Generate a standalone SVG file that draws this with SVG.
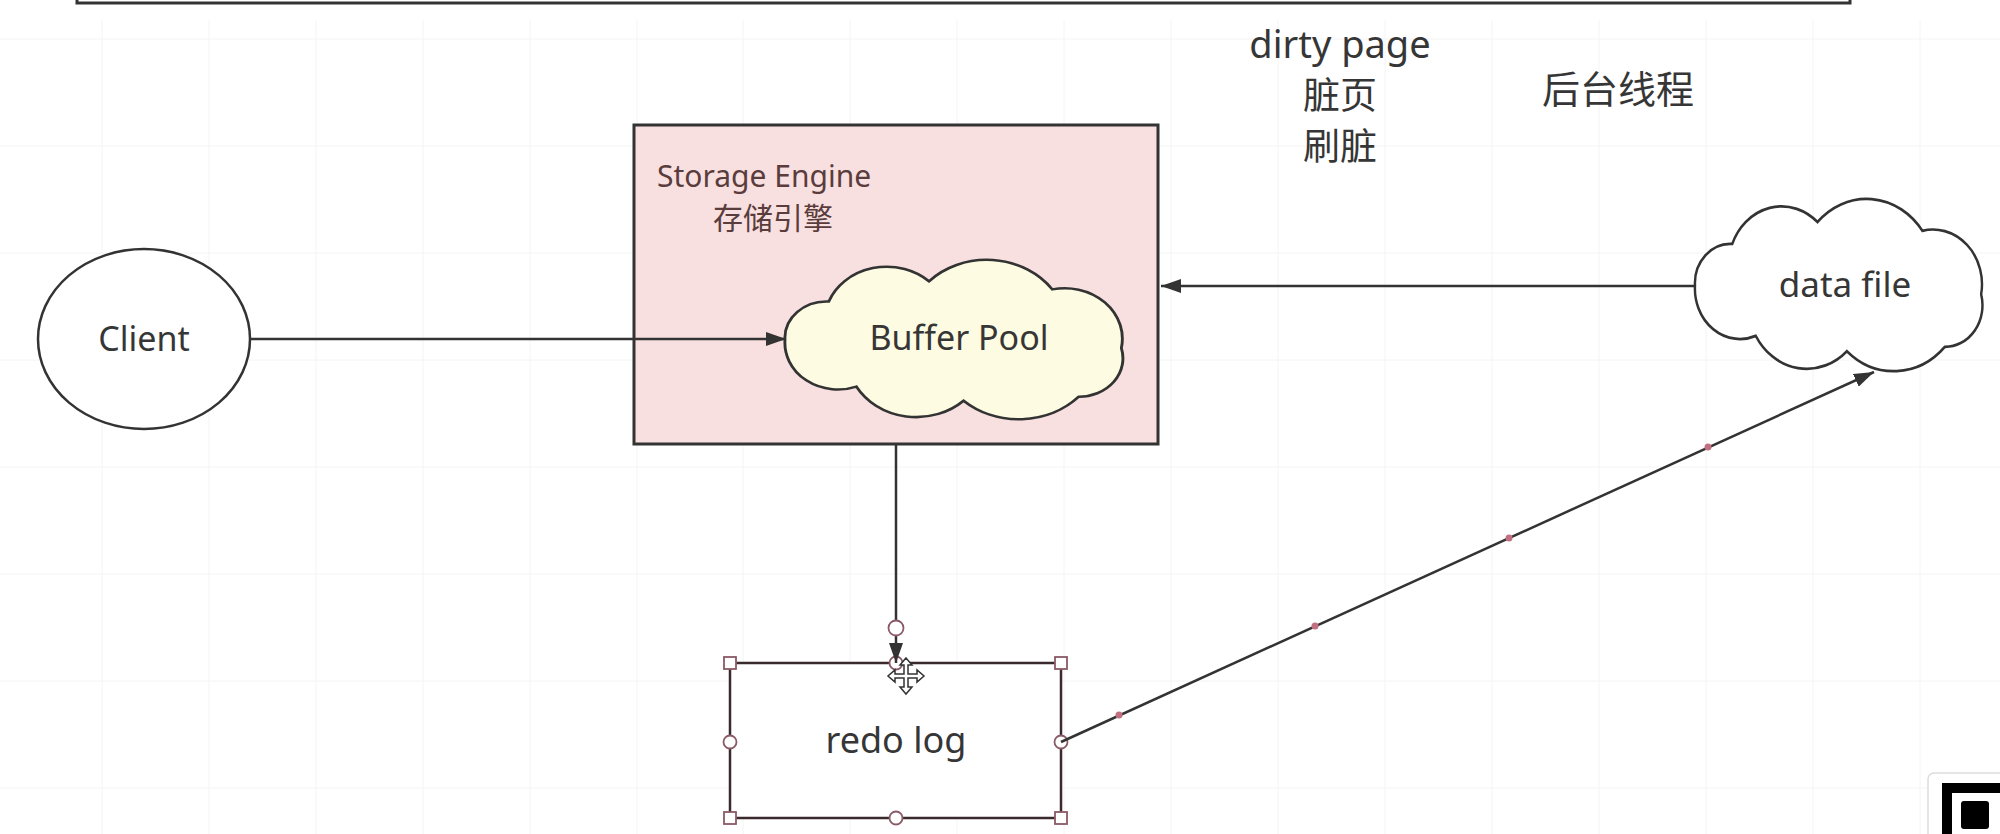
<svg xmlns="http://www.w3.org/2000/svg" width="2000" height="834" viewBox="0 0 2000 834">
<defs>
<style>
.t{font-family:"Noto Sans","Open Sans","Noto Sans CJK SC",sans-serif;fill:#363636;text-anchor:middle}
.ln{stroke:#333;stroke-width:2.5;fill:none}
.grid{stroke:#f4f4f4;stroke-width:1}
.hs{fill:#fff;stroke:#8a5a66;stroke-width:1.8}
.cl{stroke:#333;stroke-width:2.5;vector-effect:non-scaling-stroke}
</style>
<marker id="ah" viewBox="0 0 20 14" refX="20" refY="7" markerWidth="20" markerHeight="14" markerUnits="userSpaceOnUse" orient="auto">
<path d="M0,0 L20,7 L0,14 Z" fill="#333"/>
</marker>
<path id="cloud" d="M0,80 A36,36 0 0,1 38,42 A54,54 0 0,1 125,22 A70,70 0 0,1 232,30 A50,50 0 0,1 292,88 A38,38 0 0,1 255,136 A72,72 0 0,1 155,140 A60,60 0 0,1 62,126 A46,46 0 0,1 0,80 Z"/>
</defs>
<rect width="2000" height="834" fill="#fff"/>
<g id="grid">
<line class="grid" x1="102" y1="20" x2="102" y2="834"/>
<line class="grid" x1="209" y1="20" x2="209" y2="834"/>
<line class="grid" x1="316" y1="20" x2="316" y2="834"/>
<line class="grid" x1="423" y1="20" x2="423" y2="834"/>
<line class="grid" x1="530" y1="20" x2="530" y2="834"/>
<line class="grid" x1="637" y1="20" x2="637" y2="834"/>
<line class="grid" x1="743" y1="20" x2="743" y2="834"/>
<line class="grid" x1="850" y1="20" x2="850" y2="834"/>
<line class="grid" x1="957" y1="20" x2="957" y2="834"/>
<line class="grid" x1="1064" y1="20" x2="1064" y2="834"/>
<line class="grid" x1="1171" y1="20" x2="1171" y2="834"/>
<line class="grid" x1="1278" y1="20" x2="1278" y2="834"/>
<line class="grid" x1="1385" y1="20" x2="1385" y2="834"/>
<line class="grid" x1="1492" y1="20" x2="1492" y2="834"/>
<line class="grid" x1="1599" y1="20" x2="1599" y2="834"/>
<line class="grid" x1="1706" y1="20" x2="1706" y2="834"/>
<line class="grid" x1="1813" y1="20" x2="1813" y2="834"/>
<line class="grid" x1="1920" y1="20" x2="1920" y2="834"/>
<line class="grid" x1="0" y1="39" x2="2000" y2="39"/>
<line class="grid" x1="0" y1="146" x2="2000" y2="146"/>
<line class="grid" x1="0" y1="253" x2="2000" y2="253"/>
<line class="grid" x1="0" y1="360" x2="2000" y2="360"/>
<line class="grid" x1="0" y1="467" x2="2000" y2="467"/>
<line class="grid" x1="0" y1="574" x2="2000" y2="574"/>
<line class="grid" x1="0" y1="681" x2="2000" y2="681"/>
<line class="grid" x1="0" y1="788" x2="2000" y2="788"/>
</g>
<g id="topbar">
<rect x="77" y="-12" width="1773" height="15" fill="#fff" stroke="#333" stroke-width="3"/>
</g>
<g id="labels">
<text class="t" x="1340" y="58" font-size="38">dirty page</text>
<text class="t" x="1340" y="109" font-size="37">脏页</text>
<text class="t" x="1340" y="160" font-size="37">刷脏</text>
<text class="t" x="1618" y="103" font-size="38">后台线程</text>
</g>
<g id="client">
<ellipse cx="144" cy="339" rx="106" ry="90" fill="#fff" stroke="#333" stroke-width="2.5"/>
<text class="t" x="144" y="351" font-size="34">Client</text>
</g>
<g id="storage-engine">
<rect x="634" y="125" width="524" height="319" fill="#f8e0e0" stroke="#333" stroke-width="3"/>
<text class="t" x="657" y="187" font-size="30" style="text-anchor:start;fill:#5a3c3c">Storage Engine</text>
<text class="t" x="773" y="229" font-size="30" style="fill:#5a3c3c">存储引擎</text>
</g>
<g id="buffer-pool">
<use href="#cloud" class="cl" fill="#fdfbe1" transform="translate(785,259) scale(1.152,1.0125)"/>
<text class="t" x="959" y="350" font-size="34">Buffer Pool</text>
</g>
<g id="data-file">
<use href="#cloud" class="cl" fill="#fff" transform="translate(1695,198) scale(0.98,1.094)"/>
<text class="t" x="1845" y="297" font-size="35">data file</text>
</g>
<g id="redo-log">
<rect x="730" y="663" width="331" height="155" fill="#fff" stroke="#3a2a2e" stroke-width="2.5"/>
<text class="t" x="896" y="753" font-size="36">redo log</text>
<rect class="hs" x="724" y="657" width="12" height="12"/>
<rect class="hs" x="1055" y="657" width="12" height="12"/>
<rect class="hs" x="724" y="812" width="12" height="12"/>
<rect class="hs" x="1055" y="812" width="12" height="12"/>
<circle class="hs" cx="730" cy="742" r="6.5"/>
<circle class="hs" cx="1061" cy="742" r="6.5"/>
<circle class="hs" cx="896" cy="818" r="6.5"/>
<circle class="hs" cx="896" cy="663" r="6.5"/>
</g>
<g id="connectors">
<line class="ln" x1="251" y1="339" x2="786" y2="339" marker-end="url(#ah)"/>
<line class="ln" x1="1695" y1="286" x2="1161" y2="286" marker-end="url(#ah)"/>
<line class="ln" x1="896" y1="444" x2="896" y2="663" marker-end="url(#ah)"/>
<line class="ln" x1="1061" y1="742" x2="1874" y2="372" marker-end="url(#ah)"/>
<circle class="hs" cx="896" cy="628" r="7.5"/>
<circle cx="1119" cy="715" r="3.5" fill="#c07080"/>
<circle cx="1315" cy="626" r="3.5" fill="#c07080"/>
<circle cx="1509" cy="538" r="3.5" fill="#c07080"/>
<circle cx="1708" cy="447" r="3.5" fill="#c07080"/>
</g>
<g id="cursor" transform="translate(906,676)">
<path d="M0,-18 L6,-11 L2,-11 L2,-2 L11,-2 L11,-6 L18,0 L11,6 L11,2 L2,2 L2,11 L6,11 L0,18 L-6,11 L-2,11 L-2,2 L-11,2 L-11,6 L-18,0 L-11,-6 L-11,-2 L-2,-2 L-2,-11 L-6,-11 Z" fill="#fff" stroke="#333" stroke-width="1.5"/>
</g>
<g id="corner-icon">
<rect x="1928" y="773" width="90" height="80" rx="6" fill="#fff" stroke="#ddd" stroke-width="1.5"/>
<rect x="1947" y="788" width="80" height="80" fill="none" stroke="#000" stroke-width="10"/>
<rect x="1961" y="801" width="28" height="28" rx="3" fill="#000"/>
</g>
</svg>
